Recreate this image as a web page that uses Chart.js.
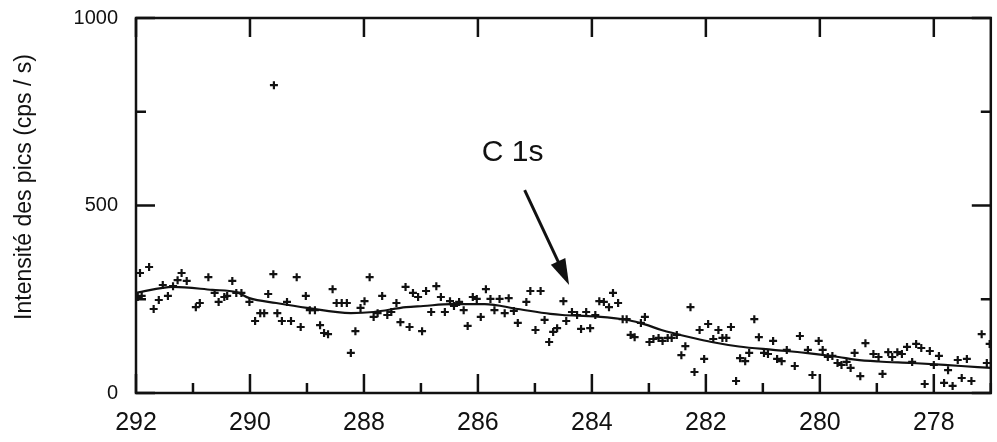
<!DOCTYPE html>
<html>
<head>
<meta charset="utf-8">
<script src="https://cdn.jsdelivr.net/npm/chart.js@4"></script>
<style>
  body { margin: 0; background: #fff; }
  canvas { display: block; }
</style>
</head>
<body>
<canvas id="xps" width="997" height="442"></canvas>
<script>
// binding energy (eV) and measured intensity (cps/s) of each scan point
const scanX = [
  291.97, 291.90, 291.93, 291.77, 291.69, 291.60, 291.53, 291.44, 291.35, 291.27,
  291.20, 291.11, 290.95, 290.88, 290.73, 290.62, 290.55, 290.45, 290.40, 290.31,
  290.24, 290.15, 290.01, 289.91, 289.82, 289.75, 289.68, 289.59, 289.58, 289.52,
  289.44, 289.35, 289.28, 289.18, 289.11, 289.02, 288.95, 288.86, 288.77, 288.70,
  288.63, 288.55, 288.48, 288.39, 288.30, 288.23, 288.15, 288.06, 287.99, 287.90,
  287.83, 287.76, 287.68, 287.59, 287.52, 287.43, 287.36, 287.27, 287.20, 287.14,
  287.05, 286.98, 286.91, 286.82, 286.73, 286.65, 286.58, 286.49, 286.42, 286.33,
  286.25, 286.18, 286.09, 286.02, 285.95, 285.86, 285.78, 285.71, 285.62, 285.53,
  285.46, 285.37, 285.30, 285.15, 285.08, 284.99, 284.90, 284.83, 284.75, 284.68,
  284.61, 284.50, 284.45, 284.35, 284.26, 284.19, 284.10, 284.03, 283.94, 283.87,
  283.79, 283.70, 283.63, 283.54, 283.46, 283.39, 283.32, 283.25, 283.14, 283.07,
  282.99, 282.92, 282.83, 282.76, 282.67, 282.60, 282.51, 282.43, 282.36, 282.27,
  282.20, 282.11, 282.03, 281.96, 281.87, 281.78, 281.71, 281.64, 281.56, 281.47,
  281.40, 281.31, 281.24, 281.15, 281.07, 280.98, 280.91, 280.82, 280.75, 280.67,
  280.58, 280.44, 280.35, 280.21, 280.13, 280.02, 279.95, 279.86, 279.78, 279.69,
  279.62, 279.53, 279.46, 279.39, 279.29, 279.20, 279.06, 278.97, 278.90, 278.80,
  278.73, 278.64, 278.56, 278.47, 278.38, 278.31, 278.22, 278.16, 278.07, 278.00,
  277.91, 277.82, 277.75, 277.67, 277.58, 277.51, 277.42, 277.34, 277.16, 277.07,
  277.02
];
const scanY = [
  256, 259, 320, 336, 224, 248, 288, 259, 285, 301,
  320, 299, 229, 240, 309, 267, 243, 256, 259, 299,
  267, 267, 243, 192, 213, 213, 264, 317, 821, 213,
  192, 243, 192, 309, 176, 259, 221, 221, 181, 160,
  157, 277, 240, 240, 240, 107, 165, 227, 245, 309,
  203, 213, 259, 208, 216, 240, 189, 283, 176, 267,
  256, 165, 272, 216, 285, 256, 216, 245, 232, 243,
  221, 179, 256, 251, 203, 277, 251, 221, 251, 213,
  253, 219, 187, 243, 272, 168, 272, 195, 136, 163,
  173, 245, 192, 216, 208, 171, 216, 173, 208, 245,
  243, 229, 267, 240, 197, 197, 155, 149, 187, 203,
  136, 144, 147, 139, 147, 147, 155, 101, 125, 229,
  56, 168, 91, 184, 144, 168, 147, 147, 176, 32,
  93, 85, 107, 197, 149, 107, 104, 139, 91, 85,
  115, 72, 152, 115, 48, 139, 115, 96, 99, 80,
  75, 83, 67, 107, 45, 133, 104, 96, 51, 109,
  96, 109, 104, 123, 83, 131, 120, 24, 112, 75,
  99, 27, 61, 19, 88, 40, 91, 32, 157, 80,
  131
];

// smoothed curve drawn through the points
const fitX = [292, 291.35, 290.66, 290.24, 290.01, 289.54, 289.0, 288.23, 287.83, 287.26,
  286.96, 286.47, 285.88, 285.30, 284.73, 284.52, 283.94, 283.35, 283.07, 282.78,
  282.20, 281.90, 281.42, 280.82, 280.25, 279.67, 279.38, 278.97, 278.38, 277.81,
  277.23, 277.0];
const fitY = [267, 283, 275, 269, 253, 240, 227, 213, 216, 229,
  232, 237, 237, 224, 211, 208, 204, 194, 183, 168,
  146, 136, 124, 115, 107, 96, 89, 84, 80, 75,
  69, 67];

// C 1s annotation (data coords)
const peakLabel = { text: 'C 1s', x: 285.39, y: 640 };
const arrowFrom = { x: 285.18, y: 541 };
const arrowTo = { x: 284.40, y: 288 };

const yTitle = 'Intensité des pics (cps / s)';

Chart.defaults.font.family = "'Liberation Sans', Arial, sans-serif";
Chart.defaults.color = '#111';

const frame = {
  id: 'frame',
  afterDatasetsDraw(chart) {
    const { ctx, chartArea: a, scales: { x, y } } = chart;
    ctx.save();
    ctx.strokeStyle = '#111';
    ctx.fillStyle = '#111';
    ctx.lineWidth = 2.5;
    ctx.strokeRect(a.left, a.top, a.right - a.left, a.bottom - a.top);

    // inward tick marks
    ctx.beginPath();
    x.ticks.forEach(t => {
      const px = x.getPixelForValue(t.value);
      const major = t.value % 2 === 0;
      const len = major ? 19 : 10;
      ctx.moveTo(px, a.bottom);
      ctx.lineTo(px, a.bottom - len);
      if (major) {
        ctx.moveTo(px, a.top);
        ctx.lineTo(px, a.top + len);
      }
    });
    y.ticks.forEach(t => {
      const py = y.getPixelForValue(t.value);
      const len = t.value % 500 === 0 ? 19 : 10;
      ctx.moveTo(a.left, py);
      ctx.lineTo(a.left + len, py);
      ctx.moveTo(a.right, py);
      ctx.lineTo(a.right - len, py);
    });
    ctx.stroke();

    // arrow
    const x0 = x.getPixelForValue(arrowFrom.x), y0 = y.getPixelForValue(arrowFrom.y);
    const x1 = x.getPixelForValue(arrowTo.x), y1 = y.getPixelForValue(arrowTo.y);
    const ang = Math.atan2(y1 - y0, x1 - x0);
    const head = 26, half = 8;
    ctx.lineWidth = 3;
    ctx.beginPath();
    ctx.moveTo(x0, y0);
    ctx.lineTo(x1 - Math.cos(ang) * head * 0.8, y1 - Math.sin(ang) * head * 0.8);
    ctx.stroke();
    ctx.beginPath();
    ctx.moveTo(x1, y1);
    ctx.lineTo(x1 - Math.cos(ang) * head - Math.sin(ang) * half, y1 - Math.sin(ang) * head + Math.cos(ang) * half);
    ctx.lineTo(x1 - Math.cos(ang) * head + Math.sin(ang) * half, y1 - Math.sin(ang) * head - Math.cos(ang) * half);
    ctx.closePath();
    ctx.fill();

    ctx.font = "30px 'Liberation Sans', Arial, sans-serif";
    ctx.textAlign = 'center';
    ctx.textBaseline = 'middle';
    ctx.fillText(peakLabel.text, x.getPixelForValue(peakLabel.x), y.getPixelForValue(peakLabel.y));

    // y axis title
    ctx.translate(25, 187);
    ctx.rotate(-Math.PI / 2);
    ctx.font = "23px 'Liberation Sans', Arial, sans-serif";
    ctx.fillText(yTitle, 0, 0);
    ctx.restore();
  }
};

const ctx = document.getElementById('xps').getContext('2d');

new Chart(ctx, {
  type: 'scatter',
  data: {
    datasets: [{
      label: 'fit',
      data: fitX.map((v, i) => ({ x: v, y: fitY[i] })),
      showLine: true,
      borderColor: '#111',
      borderWidth: 2.2,
      pointRadius: 0,
      cubicInterpolationMode: 'monotone'
    }, {
      label: 'points',
      data: scanX.map((v, i) => ({ x: v, y: scanY[i] })),
      pointStyle: 'cross',
      pointRadius: 4,
      borderColor: '#111',
      borderWidth: 2.2
    }]
  },
  options: {
    responsive: false,
    animation: false,
    layout: { padding: { top: 18, right: 2, left: 0, bottom: 0 } },
    plugins: { legend: { display: false }, tooltip: { enabled: false } },
    scales: {
      x: {
        type: 'linear',
        reverse: true,
        min: 277,
        max: 292,
        grid: { display: false, drawTicks: false },
        border: { display: false },
        ticks: {
          stepSize: 1,
          padding: 15,
          maxRotation: 0,
          autoSkip: false,
          font: { size: 25 },
          callback: v => (v % 2 === 0 ? v : '')
        },
        afterFit: s => {
          s.height = 49;
          s.paddingLeft = 0;
          s.paddingRight = 0;
        }
      },
      y: {
        min: 0,
        max: 1000,
        grid: { display: false, drawTicks: false },
        border: { display: false },
        ticks: {
          stepSize: 250,
          padding: 18,
          font: { size: 20 },
          callback: v => (v % 500 === 0 ? v : '')
        },
        afterFit: s => {
          s.width = 136;
          s.paddingTop = 0;
          s.paddingBottom = 0;
        }
      }
    }
  },
  plugins: [frame]
});
</script>
</body>
</html>
